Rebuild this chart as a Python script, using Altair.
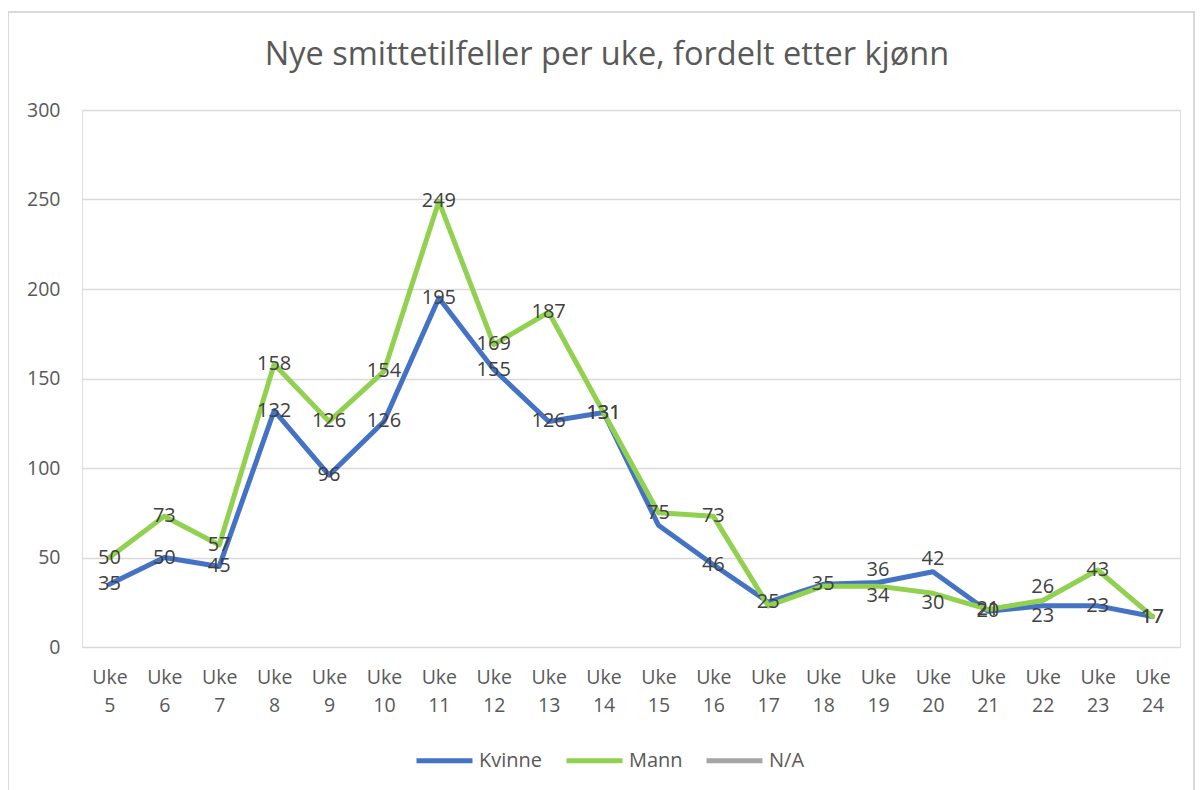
import altair as alt
import pandas as pd

weeks = [f"Uke {i}" for i in range(5, 25)]
kvinne = [35, 50, 45, 132, 96, 126, 195, 155, 126, 131, 68, 46, 25, 35, 36, 42, 20, 23, 23, 17]
mann = [50, 73, 57, 158, 126, 154, 249, 169, 187, 131, 75, 73, 23, 34, 34, 30, 21, 26, 43, 17]
# labels that are hidden in the original (overlapping labels)
kvinne_hidden = ["Uke 15"]
mann_hidden = ["Uke 17", "Uke 18"]
# labels nudged above / below their point in the original
kvinne_above = ["Uke 19", "Uke 20"]
kvinne_below = ["Uke 22"]
mann_above = ["Uke 22"]
mann_below = ["Uke 19", "Uke 20"]

series = ["Kvinne", "Mann", "N/A"]
colors = ["#4472C4", "#92D050", "#A5A5A5"]
title_text = "Nye smittetilfeller per uke, fordelt etter kjønn"
y_ticks = [0, 50, 100, 150, 200, 250, 300]


def place(w, above, below):
    if w in above:
        return "above"
    if w in below:
        return "below"
    return "center"


rows = []
for w, v in zip(weeks, kvinne):
    rows.append({"week": w, "series": "Kvinne", "value": v,
                 "label": "" if w in kvinne_hidden else str(v),
                 "place": place(w, kvinne_above, kvinne_below)})
for w, v in zip(weeks, mann):
    rows.append({"week": w, "series": "Mann", "value": v,
                 "label": "" if w in mann_hidden else str(v),
                 "place": place(w, mann_above, mann_below)})
df = pd.DataFrame(rows)

FONT = "Open Sans"
W, H = 1098, 537

x_enc = alt.X(
    "week:N",
    sort=weeks,
    title=None,
    axis=alt.Axis(
        labelAngle=0,
        labelExpr="split(datum.label, ' ')",
        labelFont=FONT,
        labelFontSize=19.5,
        labelColor="#595959",
        labelLineHeight=28,
        labelPadding=21,
        domain=False,
        ticks=False,
        grid=False,
    ),
)
y_enc = alt.Y(
    "value:Q",
    title=None,
    scale=alt.Scale(domain=[0, 300], nice=False),
    axis=alt.Axis(
        values=y_ticks,
        labelFont=FONT,
        labelFontSize=19.5,
        labelColor="#595959",
        labelPadding=22,
        domain=False,
        ticks=False,
        grid=True,
        gridColor="#D9D9D9",
        gridWidth=1.3,
    ),
)
color_enc = alt.Color(
    "series:N",
    scale=alt.Scale(domain=series, range=colors),
    sort=series,
    legend=alt.Legend(
        title=None,
        orient="none",
        direction="horizontal",
        legendX=332,
        legendY=620,
        symbolType="stroke",
        symbolSize=3136,
        symbolStrokeWidth=5,
        labelFont=FONT,
        labelFontSize=20,
        labelColor="#595959",
        labelOffset=4,
        columnPadding=13,
    ),
)

base = alt.Chart(df)

lines = base.mark_line(strokeWidth=5, strokeJoin="round", strokeCap="round").encode(
    x=x_enc, y=y_enc, color=color_enc, order=alt.Order("series:N")
)


def label_layer(placement, dy):
    return base.transform_filter(alt.datum.place == placement).mark_text(
        font=FONT, fontSize=20, color="#404040", align="center", baseline="middle", dy=dy
    ).encode(
        x=alt.X("week:N", sort=weeks),
        y=alt.Y("value:Q"),
        text="label:N",
    )


labels = [label_layer("center", 0), label_layer("above", -13), label_layer("below", 10)]

title = alt.Chart(alt.Data(values=[{}])).mark_text(
    font=FONT, fontSize=32.5, color="#595959", align="center", baseline="middle"
).encode(x=alt.value(525), y=alt.value(-55), text=alt.value(title_text))

border = alt.Chart(alt.Data(values=[{}])).mark_rect(
    fill=None, stroke="#D9D9D9", strokeWidth=2
).encode(
    x=alt.value(-74), x2=alt.value(1112), y=alt.value(-98), y2=alt.value(720)
)

chart = alt.layer(border, lines, *labels, title).properties(
    width=W,
    height=H,
    autosize=alt.AutoSizeParams(type="none"),
    padding={"left": 74, "top": 102, "right": 15, "bottom": 143},
).configure_view(stroke=None).configure(background="white")

chart.save("out.html", embed_options={"renderer": "svg", "actions": False})
